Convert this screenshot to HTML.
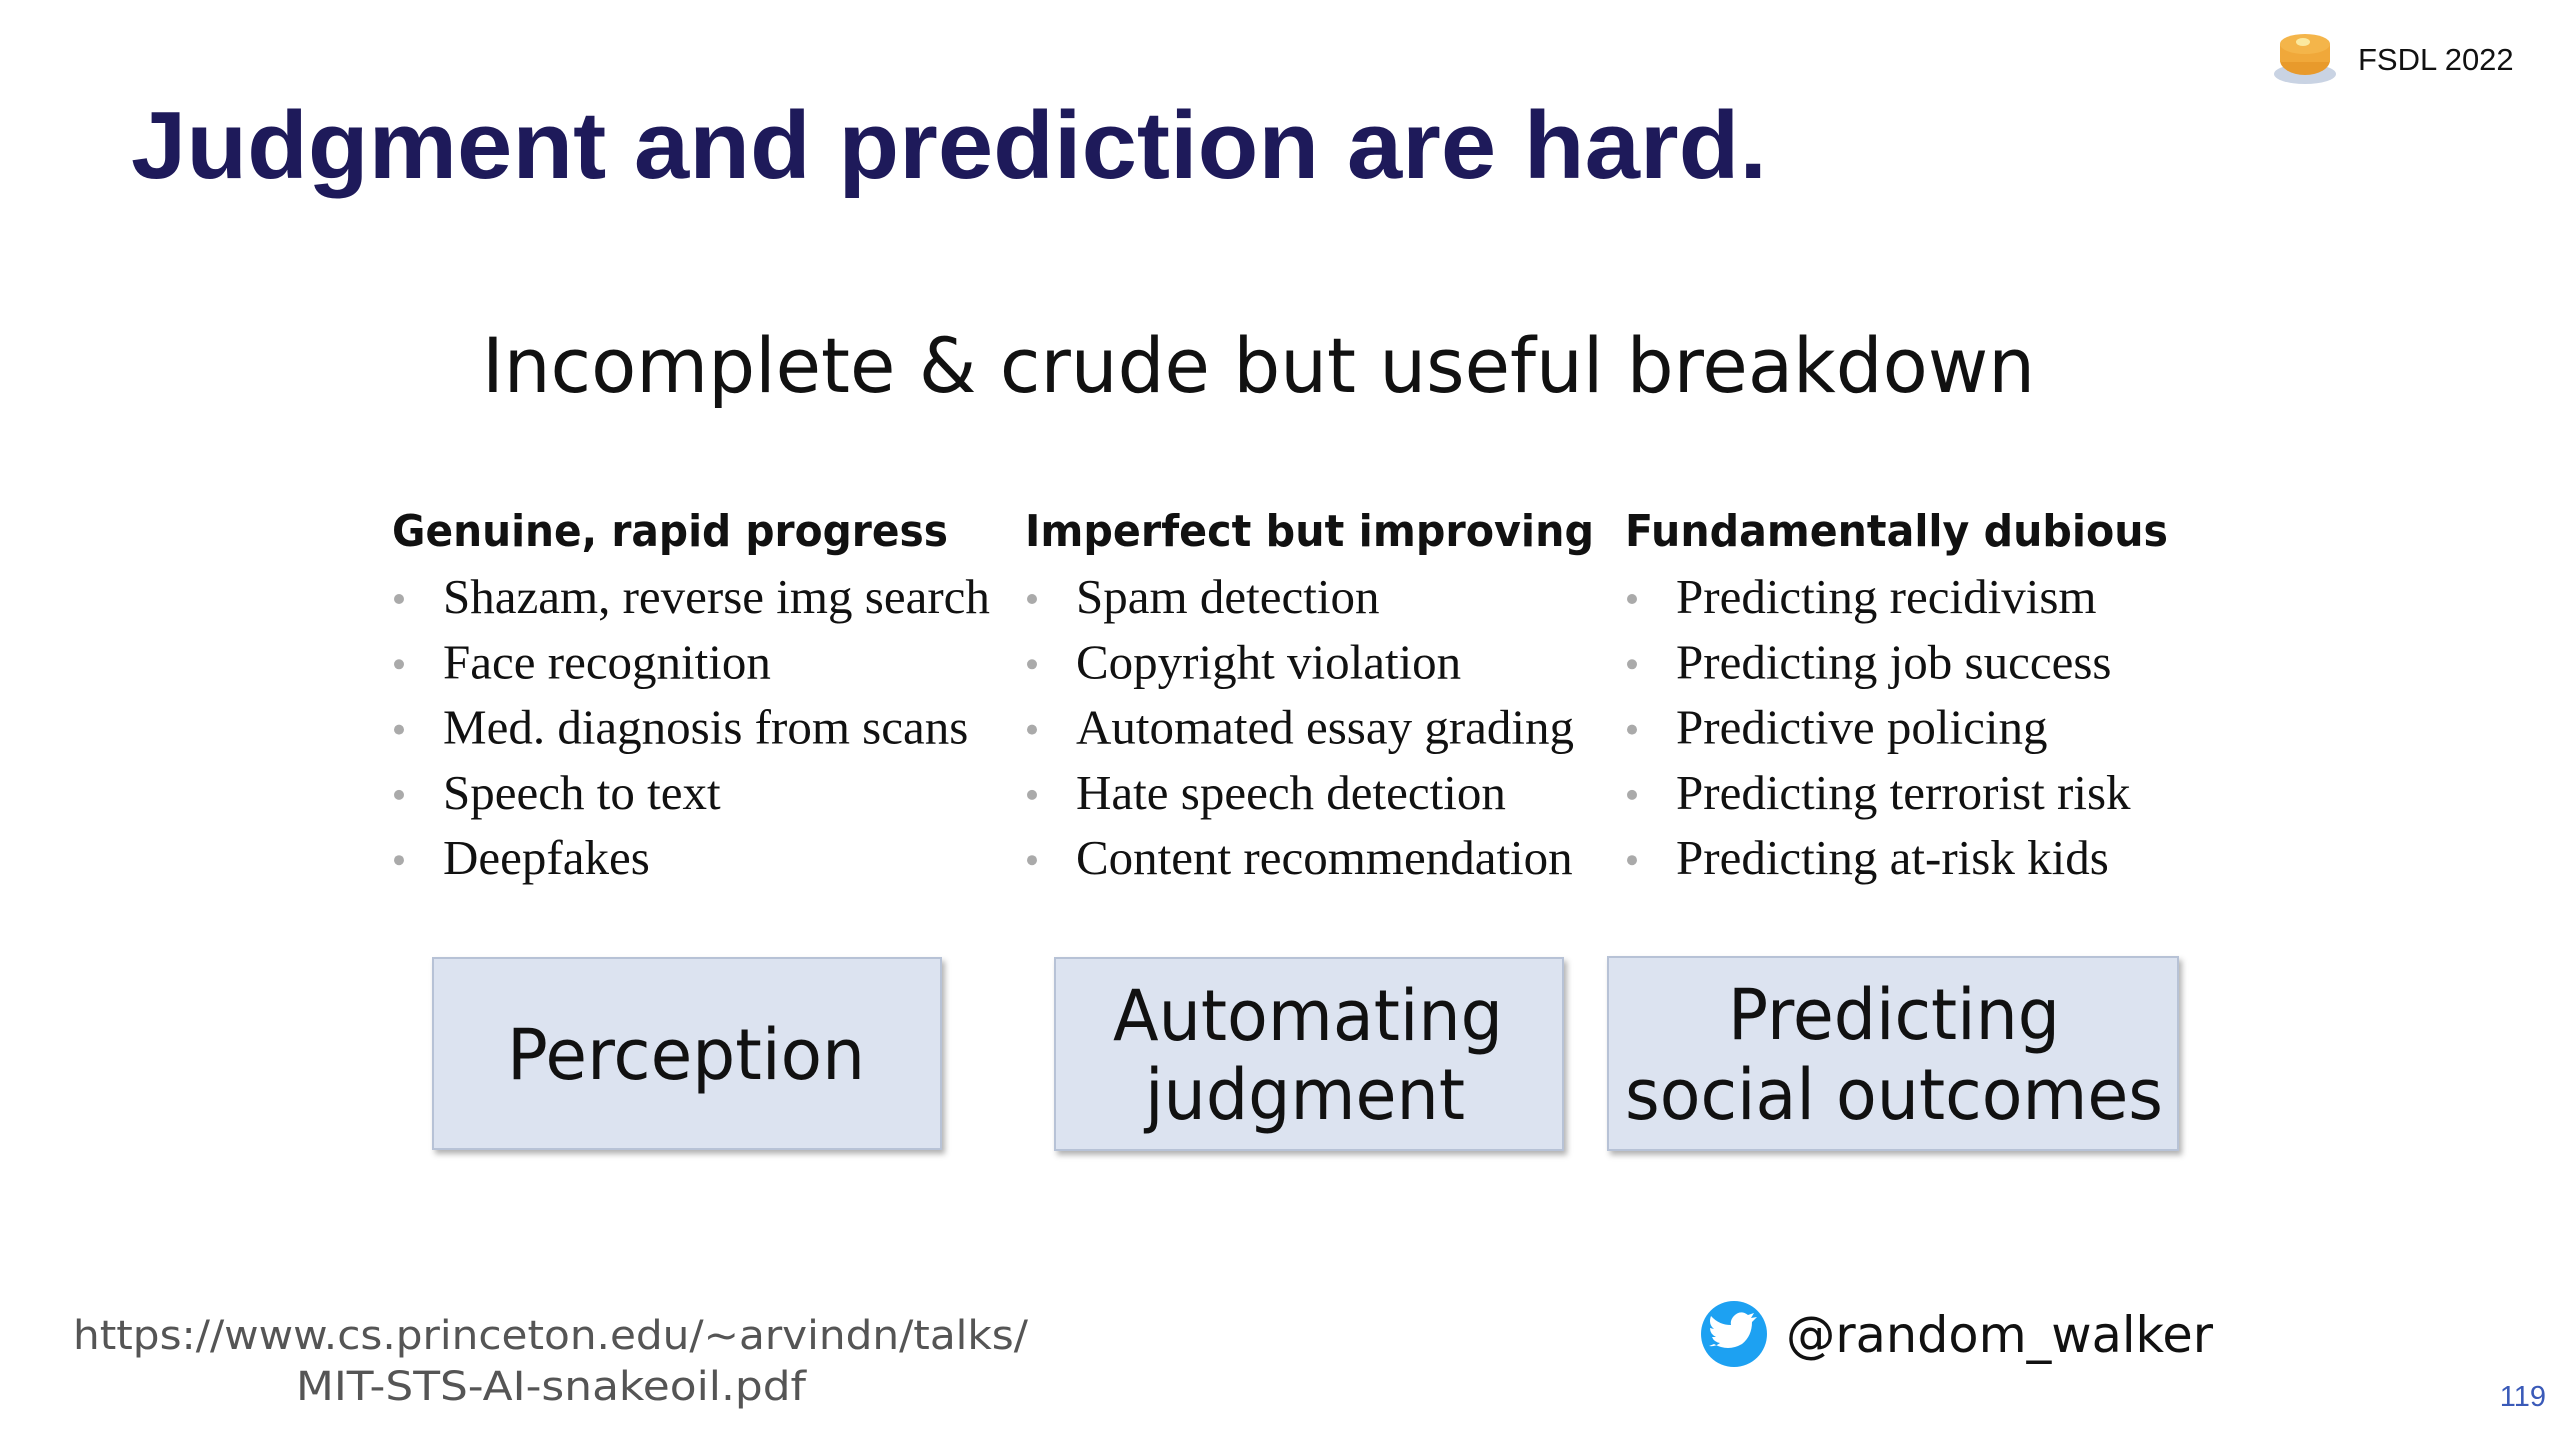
<!DOCTYPE html>
<html><head><meta charset="utf-8"><style>
html,body{margin:0;padding:0;background:#fff;}
svg{display:block;}
</style></head><body>
<svg width="2560" height="1440" viewBox="0 0 2560 1440" xmlns="http://www.w3.org/2000/svg">
<defs><filter id="sh" x="-5%" y="-5%" width="115%" height="120%"><feDropShadow dx="3" dy="4" stdDeviation="3" flood-color="#000" flood-opacity="0.3"/></filter></defs>
<rect width="2560" height="1440" fill="#fff"/>
<text x="131" y="178" font-family="Liberation Sans, sans-serif" font-weight="bold" font-size="96" fill="#1e1a5a" textLength="1636" lengthAdjust="spacingAndGlyphs">Judgment and prediction are hard.</text>
<g>
<ellipse cx="2305" cy="74" rx="31" ry="10" fill="#c9d3e3"/>
<ellipse cx="2305" cy="60" rx="25" ry="15" fill="#e89a2c"/>
<rect x="2280" y="44" width="50" height="18" fill="#f0a83a"/>
<ellipse cx="2305" cy="44" rx="25" ry="10" fill="#f4b54a"/>
<ellipse cx="2303" cy="42" rx="7" ry="4" fill="#fbe9a0"/>
<text x="2358" y="70" font-family="Liberation Sans, sans-serif" font-size="31" fill="#111">FSDL 2022</text>
</g>
<text x="482" y="392" font-family="DejaVu Sans, sans-serif" font-size="76" fill="#111" textLength="1553" lengthAdjust="spacingAndGlyphs">Incomplete &amp; crude but useful breakdown</text>
<g font-family="DejaVu Sans, sans-serif" font-weight="bold" font-size="44" fill="#111">
<text x="392" y="546" textLength="556" lengthAdjust="spacingAndGlyphs">Genuine, rapid progress</text>
<text x="1025" y="546" textLength="569" lengthAdjust="spacingAndGlyphs">Imperfect but improving</text>
<text x="1625" y="546" textLength="543" lengthAdjust="spacingAndGlyphs">Fundamentally dubious</text>
</g>
<g font-family="Liberation Serif, serif" font-size="49" fill="#111" id="lists"></g>
<g filter="url(#sh)"><rect x="433" y="958" width="508" height="191" fill="#dce3f0" stroke="#b7c2d6" stroke-width="2"/></g>
<g filter="url(#sh)"><rect x="1055" y="958" width="508" height="192" fill="#dce3f0" stroke="#b7c2d6" stroke-width="2"/></g>
<g filter="url(#sh)"><rect x="1608" y="957" width="570" height="193" fill="#dce3f0" stroke="#b7c2d6" stroke-width="2"/></g>
<g font-family="DejaVu Sans, sans-serif" font-size="70" fill="#111" text-anchor="middle">
<text x="686" y="1079" textLength="358" lengthAdjust="spacingAndGlyphs">Perception</text>
<text x="1308" y="1040" textLength="390" lengthAdjust="spacingAndGlyphs">Automating</text>
<text x="1305" y="1119" textLength="320" lengthAdjust="spacingAndGlyphs">judgment</text>
<text x="1894" y="1039" textLength="332" lengthAdjust="spacingAndGlyphs">Predicting</text>
<text x="1894" y="1119" textLength="538" lengthAdjust="spacingAndGlyphs">social outcomes</text>
</g>
<g font-family="DejaVu Sans, sans-serif" font-size="40" fill="#555">
<text x="73" y="1349" textLength="955" lengthAdjust="spacingAndGlyphs">https://www.cs.princeton.edu/~arvindn/talks/</text>
<text x="296" y="1400" textLength="510" lengthAdjust="spacingAndGlyphs">MIT-STS-AI-snakeoil.pdf</text>
</g>
<g>
<circle cx="1734" cy="1334" r="33" fill="#1da1f2"/>
<path d="M1714 1344 q14 8 28 0 q10 -8 10 -22 l5 -5 l-6 1 l3 -5 l-6 2 q-8 -6 -15 2 q-3 4 -2 8 q-12 0 -20 -9 q-3 8 3 13 l-4 -1 q0 6 6 9 l-4 0 q2 5 8 6 q-5 4 -11 3 z" fill="#fff"/>
<text x="1786" y="1352" font-family="DejaVu Sans, sans-serif" font-size="50" fill="#111" textLength="427" lengthAdjust="spacingAndGlyphs">@random_walker</text>
</g>
<text x="2546" y="1406" text-anchor="end" font-family="Liberation Sans, sans-serif" font-size="29" fill="#3a5ab8">119</text>
</svg>
<script>
const col1 = ["Shazam, reverse img search","Face recognition","Med. diagnosis from scans","Speech to text","Deepfakes"];
const col2 = ["Spam detection","Copyright violation","Automated essay grading","Hate speech detection","Content recommendation"];
const col3 = ["Predicting recidivism","Predicting job success","Predictive policing","Predicting terrorist risk","Predicting at-risk kids"];
const g = document.getElementById('lists');
const ns = 'http://www.w3.org/2000/svg';
[[col1,392,'progress'],[col2,1025,'improving'],[col3,1625,'dubious']].forEach(([items,x,key])=>{
  items.forEach((t,i)=>{
    const y = 613 + i*65.3;
    const c = document.createElementNS(ns,'circle');
    c.setAttribute('cx', x+7); c.setAttribute('cy', y-14); c.setAttribute('r', 5); c.setAttribute('fill','#aaa');
    
    
    g.appendChild(c);
    const tx = document.createElementNS(ns,'text');
    tx.setAttribute('x', x+51); tx.setAttribute('y', y);
    tx.textContent = t;
    
    
    g.appendChild(tx);
  });
});
</script>
</body></html>
